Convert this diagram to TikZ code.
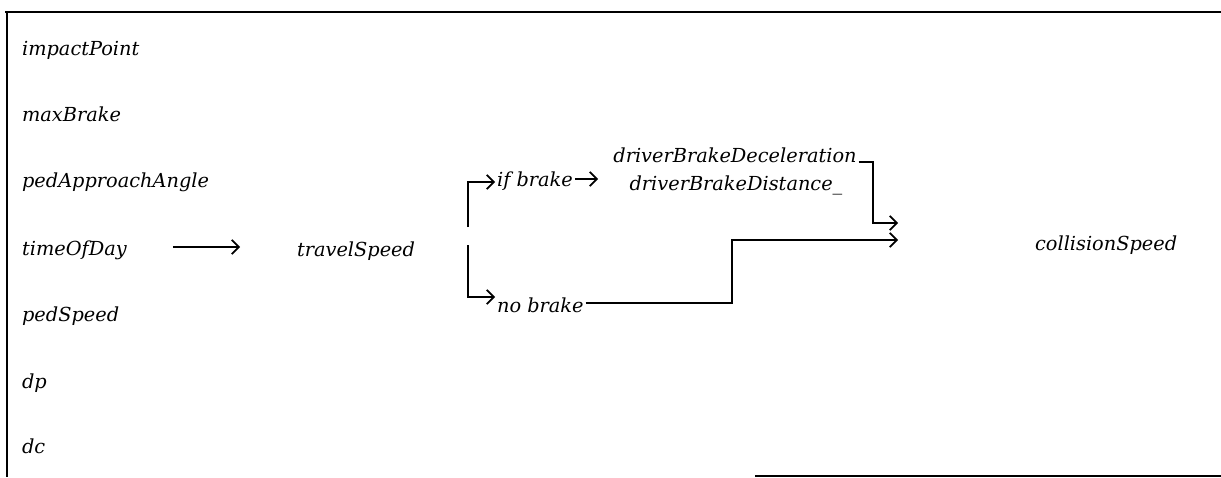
\documentclass[tikz,border=0pt]{standalone}
\usepackage{fontspec}
\setmainfont{DejaVu Serif}
\usetikzlibrary{arrows.meta}

\begin{document}
\begin{tikzpicture}[x=0.02cm, y=-0.02cm, >={Straight Barb[length=4pt,width=8pt]},
    var/.style={anchor=base west, inner sep=1pt, font=\itshape\fontsize{11}{13}\selectfont},
    link/.style={line width=1pt}]
    \useasboundingbox (0,0) rectangle (1221,477);
    \draw[link] (5,12) -- (1221,12); \draw[link] (7,12) -- (7,477);
    \draw[link] (755,476) -- (1221,476);
    \node[var] (imp) at (20,55) {impactPoint}; \node[var] (maxb) at (20,121)
    {maxBrake}; \node[var] (ang) at (20,187) {pedApproachAngle};
    \node[var] (tod) at (20,255) {timeOfDay}; \node[var] (ps) at (20,321)
    {pedSpeed}; \node[var] (dp) at (20,388) {dp}; \node[var] (dc) at (20,453)
    {dc};
    \node[var] (ts) at (295,256) {travelSpeed};
    \node[var] (ifb) at (495,186) {if brake}; \node[var] (nob) at (495,312)
    {no brake};
    \node[var, anchor=base] (dec) at (735,162) {driverBrakeDeceleration};
    \node[var, anchor=base] (dist) at (736,190) {driverBrakeDistance\_};
    \node[var] (coll) at (1033,250) {collisionSpeed};
    \coordinate (up) at (468,227); \coordinate (down) at (468,245);
    \coordinate (dd) at (598,179);
    \coordinate (in1) at (898,223); \coordinate (in2) at (898,240);
    \draw[link, ->, shorten <=0.88cm, shorten >=1.1cm] (tod.east |- 0,247) -- (ts.west |- 0,247);
    \draw[link, ->] (up) -- (468,182) -- (ifb.west |- 0,182);
    \draw[link, ->] (down) -- (468,297) -- (nob.west |- 0,297);
    \draw[link, ->] (ifb.east |- dd) -- (dd);
    \draw[link, ->] (dec.base east) -- ++(14,0) |- (in1);
    \draw[link, ->] (nob.east |- 0,303) -| (732,240) -- (in2);
  \end{tikzpicture}
\end{document}
